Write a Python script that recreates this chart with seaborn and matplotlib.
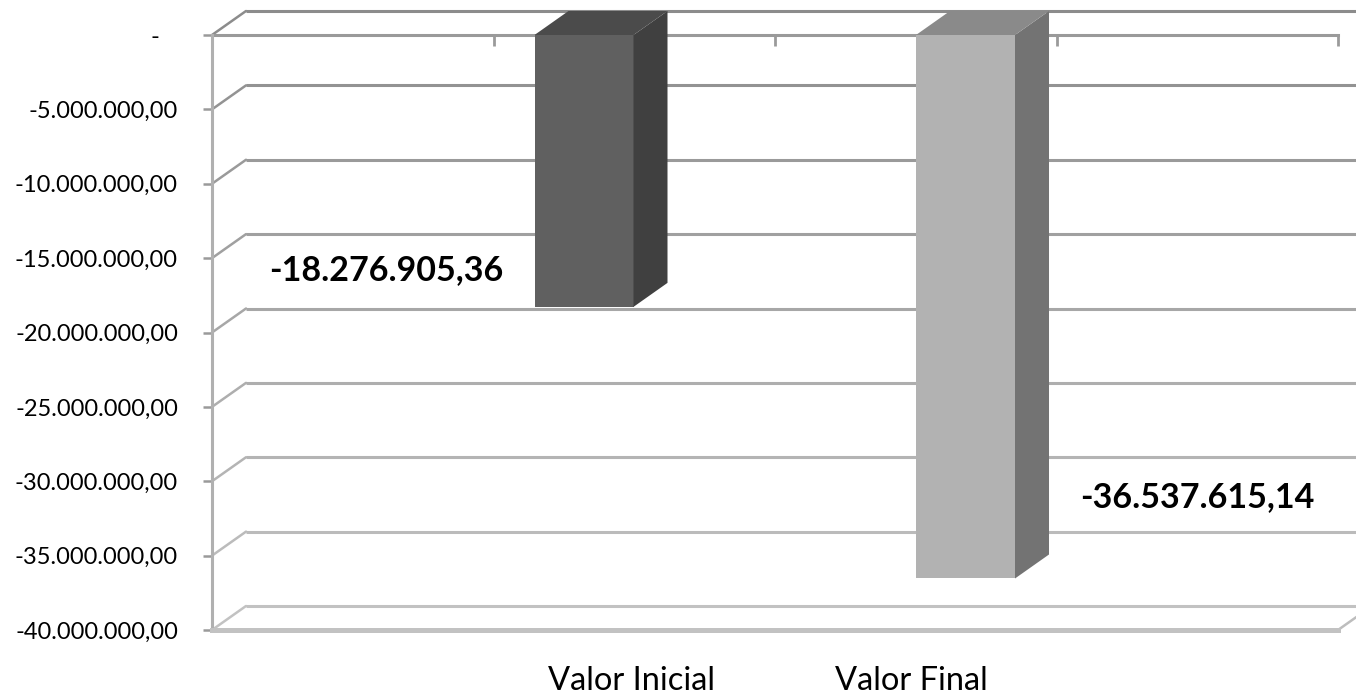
import matplotlib
matplotlib.use("Agg")
import matplotlib.pyplot as plt
from matplotlib.patches import Polygon
from matplotlib.ticker import FixedLocator, FixedFormatter
import seaborn as sns
import numpy as np

# ---- data ----
categories = ["Valor Inicial", "Valor Final"]
values = [-18276905.36, -36537615.14]
y_ticks = [0, -5e6, -10e6, -15e6, -20e6, -25e6, -30e6, -35e6, -40e6]
y_tick_labels = ["-   ", "-5.000.000,00", "-10.000.000,00", "-15.000.000,00",
                 "-20.000.000,00", "-25.000.000,00", "-30.000.000,00",
                 "-35.000.000,00", "-40.000.000,00"]

# ---- styles ----
front_colors = ["#606060", "#b2b2b2"]
side_colors = ["#404040", "#737373"]
top_colors = ["#4b4b4b", "#8a8a8a"]

sns.set_style("white")
plt.rcParams["font.family"] = ["Lato", "DejaVu Sans"]

W, H = 1356, 696
fig = plt.figure(figsize=(W / 100, H / 100), dpi=100)
L, R, T, B = 212, 1338, 35, 630
ax = fig.add_axes([L / W, (H - B) / H, (R - L) / W, (B - T) / H])

span = 2.9515
x0 = -0.9751
ax.set_xlim(x0, x0 + span)
ymin, ymax = -40e6, 0
ax.set_ylim(ymin, ymax)

def px_x(px):
    return x0 + (px - L) / (R - L) * span

def px_y(py):
    return ymax - (py - T) / (B - T) * (ymax - ymin)

DXpx, DYpx = 34, 24
dxd = DXpx / (R - L) * span
dyd = DYpx / (B - T) * (ymax - ymin)

bar_w = 99 / (R - L) * span
sns.barplot(x=categories, y=values, hue=categories, palette=front_colors,
            width=bar_w, saturation=1, legend=False, ax=ax,
            edgecolor="none", linewidth=0, zorder=2)
ax.set_xlim(x0, x0 + span)
ax.set_ylim(ymin, ymax)
ax.set_xlabel("")
ax.set_ylabel("")

# back-wall gridlines + diagonal stubs
grid_cols = np.linspace(0.55, 0.76, len(y_ticks))
for v, g in zip(y_ticks, grid_cols):
    c = (g, g, g)
    ax.plot([px_x(L + DXpx), px_x(W + 40)], [v + dyd, v + dyd], color=c,
            lw=2.2, clip_on=False, zorder=0.5, solid_capstyle="butt")
    ax.plot([x0, x0 + dxd], [v, v + dyd], color=c, lw=1.8,
            clip_on=False, zorder=0.5)
# floor right edge
ax.plot([x0 + span, x0 + span + dxd], [ymin, ymin + dyd], color="#bdbdbd",
        lw=1.8, clip_on=False, zorder=0.5)

# 3D faces for bars
for i, p in enumerate(ax.patches[:len(values)]):
    bx0 = p.get_x()
    bx1 = bx0 + p.get_width()
    y_top = 0
    y_bot = values[i]
    side = Polygon([(bx1, y_top), (bx1 + dxd, y_top + dyd),
                    (bx1 + dxd, y_bot + dyd), (bx1, y_bot)], closed=True,
                   facecolor=side_colors[i], edgecolor="none", zorder=3,
                   clip_on=False)
    top = Polygon([(bx0, y_top), (bx1, y_top), (bx1 + dxd, y_top + dyd),
                   (bx0 + dxd, y_top + dyd)], closed=True,
                  facecolor=top_colors[i], edgecolor="none", zorder=3,
                  clip_on=False)
    ax.add_patch(side)
    ax.add_patch(top)

# spines
for s in ["top", "right", "bottom", "left"]:
    ax.spines[s].set_visible(True)
ax.spines["right"].set_visible(False)
ax.spines["top"].set_color("#9a9a9a")
ax.spines["top"].set_linewidth(2.2)
ax.spines["top"].set_zorder(1)
ax.spines["left"].set_color("#b0b0b0")
ax.spines["left"].set_linewidth(2.2)
ax.spines["bottom"].set_color("#c2c2c2")
ax.spines["bottom"].set_linewidth(3.6)

# y ticks
ax.yaxis.set_major_locator(FixedLocator(y_ticks))
ax.yaxis.set_major_formatter(FixedFormatter(y_tick_labels))
ax.tick_params(axis="y", which="major", left=True, length=6.5, width=1.8,
               color="#9a9a9a", pad=18, labelsize=17, labelcolor="black")

# x ticks on top (category separators)
ax.xaxis.set_ticks_position("top")
ax.set_xticks([x0 + f * span for f in [0, 0.25, 0.5, 0.75, 1.0]])
ax.set_xticklabels([])
ax.tick_params(axis="x", which="major", top=True, bottom=False,
               direction="in", length=8, width=2.0, color="#9a9a9a")

# category labels
cat_px = [632, 911]
for c, px in zip(categories, cat_px):
    fig.text(px / W, (H - 690) / H, c, ha="center", va="baseline",
             fontsize=23.5, color="black")

# value labels
def br_fmt(v):
    s = f"{v:,.2f}"
    return s.replace(",", "X").replace(".", ",").replace("X", ".")

lab_pos = [(386, 270), (1197, 497)]
for v, (px, py) in zip(values, lab_pos):
    ax.text(px_x(px), px_y(py), br_fmt(v), ha="center", va="center",
            fontsize=24.5, fontweight="bold", color="black", clip_on=False,
            zorder=5)

fig.savefig("out.png", dpi=100)
